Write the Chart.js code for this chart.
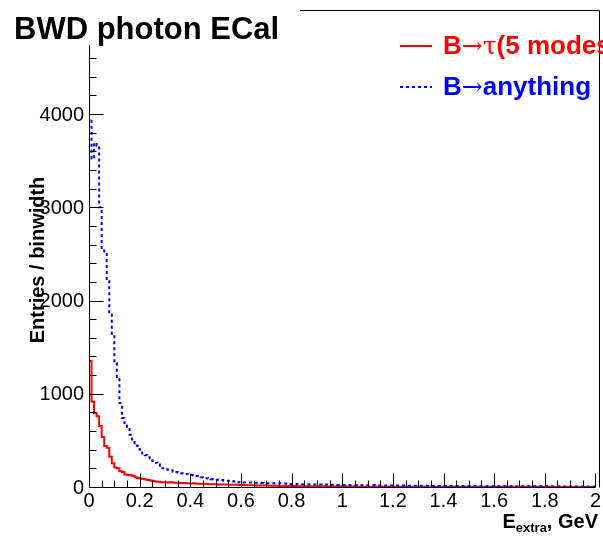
<!DOCTYPE html>
<html>
<head>
<meta charset="utf-8">
<script src="https://cdn.jsdelivr.net/npm/chart.js@4.4.0/dist/chart.umd.min.js"></script>
<style>
  html, body { margin: 0; padding: 0; background: #fff; }
  #wrap { width: 603px; height: 537px; position: relative; overflow: hidden; }
</style>
</head>
<body>
<div id="wrap"><canvas id="c" width="603" height="537"></canvas></div>
<script>
// ---- Data ----
const titleText = "BWD photon ECal";
const xAxisTitle = ["E", "extra", ", GeV"];
const yAxisTitle = "Entries / binwidth";
const binWidth = 0.01;
const xMin = 0, xMax = 2;
const yMin = 0, yMax = 4740;
const xMajorStep = 0.2, xMinorStep = 0.05;
const yMajorStep = 1000, yMinorStep = 200;
const yTickValues = [0, 1000, 2000, 3000, 4000];
const yTickLabels = ["0", "1000", "2000", "3000", "4000"];
const seriesNames = ["B\u2192\u03C4(5 modes)", "B\u2192anything"];

// B -> tau (5 modes), red solid, entries per 0.01 GeV bin from 0 to 2
const redValues = [
  0,1354,915,790,760,654,536,440,420,325,
  254,210,200,170,160,135,130,125,120,105,
  95,90,85,80,75,70,65,60,55,52,
  50,50,48,50,46,45,44,42,42,40,
  40,38,40,36,35,34,33,32,30,30,
  29,29,28,28,27,26,25,25,24,23,
  22,21,20,20,19,18,18,17,16,16,
  15,15,14,14,13,13,12,12,11,11,
  10,10,10,9,9,9,8,8,8,8,
  7,7,7,7,6,6,6,6,6,6,
  5,5,5,5,5,5,5,4,4,4,
  4,4,4,4,4,4,4,4,4,3,
  3,3,3,3,4,3,3,3,3,3,
  3,3,3,3,3,3,2,3,3,3,
  3,2,2,3,2,2,2,3,2,2,
  2,2,2,2,2,2,2,2,2,2,
  2,2,2,2,1,2,2,2,2,2,
  2,2,2,1,2,2,2,1,2,2,
  1,2,1,2,1,1,2,1,1,2,
  1,1,1,2,1,1,1,1,1,1
];
// B -> anything, blue dashed
const blueValues = [
  0,3950,3520,3690,3660,3000,2550,2500,2220,1850,
  1630,1330,1180,900,740,670,620,560,510,470,
  440,400,360,340,320,305,280,260,240,215,
  200,190,185,180,164,160,155,147,145,140,
  130,128,125,118,105,104,100,95,90,82,
  80,78,76,74,68,67,66,64,60,52,
  50,50,48,48,47,47,46,45,45,44,
  42,41,41,40,40,39,39,38,37,36,
  32,31,31,30,30,29,29,29,28,28,
  28,27,27,26,26,24,24,23,23,22,
  22,21,21,21,20,20,20,19,19,19,
  18,18,18,18,17,17,17,17,16,16,
  16,16,15,15,15,15,14,14,14,14,
  14,13,13,13,13,13,12,12,12,12,
  12,12,11,11,11,11,11,11,10,10,
  10,10,10,10,10,9,9,9,9,9,
  9,9,9,8,8,8,8,8,8,8,
  8,8,7,7,7,7,7,7,7,7,
  7,7,6,7,6,6,6,6,6,6,
  6,6,6,5,6,5,5,5,5,5
];

function toSteps(vals) {
  const pts = vals.map((v, i) => ({ x: +(i * binWidth).toFixed(4), y: v }));
  pts.push({ x: xMax, y: vals[vals.length - 1] });
  return pts;
}

const FONT = "'Liberation Sans', Arial, Helvetica, sans-serif";
Chart.defaults.font.family = FONT;
Chart.defaults.color = "#000";

const rootPlugin = {
  id: "rootStyle",
  afterDraw(chart) {
    const ctx = chart.ctx;
    const xs = chart.scales.x, ys = chart.scales.y;
    const ca = chart.chartArea;
    ctx.save();
    ctx.strokeStyle = "#000";
    ctx.lineWidth = 1;
    // axes lines
    const x0 = Math.round(xs.getPixelForValue(xMin)) + 0.5;
    const y0 = Math.round(ys.getPixelForValue(yMin)) + 0.5;
    ctx.beginPath();
    ctx.moveTo(x0, Math.round(ca.top));
    ctx.lineTo(x0, y0);
    ctx.lineTo(Math.round(ca.right) + 0.5, y0);
    ctx.stroke();
    // y ticks (inside)
    ctx.beginPath();
    for (let v = yMin; v <= yMax + 1e-6; v += yMinorStep) {
      const py = Math.round(ys.getPixelForValue(v)) + 0.5;
      const major = Math.abs(v / yMajorStep - Math.round(v / yMajorStep)) < 1e-6;
      ctx.moveTo(x0, py);
      ctx.lineTo(x0 + (major ? 14 : 7), py);
    }
    // x ticks (inside)
    for (let v = xMin; v <= xMax + 1e-6; v += xMinorStep) {
      const px = Math.round(xs.getPixelForValue(v)) + 0.5;
      const major = Math.abs(v / xMajorStep - Math.round(v / xMajorStep)) < 1e-6;
      ctx.moveTo(px, y0);
      ctx.lineTo(px, y0 - (major ? 14 : 7));
    }
    ctx.stroke();

    // y tick labels
    ctx.fillStyle = "#000";
    ctx.font = "20px " + FONT;
    ctx.textAlign = "right";
    ctx.textBaseline = "middle";
    yTickValues.forEach((v, i) => {
      ctx.fillText(yTickLabels[i], 84, ys.getPixelForValue(v) + 1);
    });

    // title
    ctx.font = "bold 31px " + FONT;
    ctx.textAlign = "left";
    ctx.textBaseline = "alphabetic";
    ctx.fillText(titleText, 14, 39);

    // legend box edges
    ctx.beginPath();
    ctx.moveTo(300, 10.5);
    ctx.lineTo(599.5, 10.5);
    ctx.lineTo(599.5, y0);
    ctx.stroke();

    // legend entries
    const ds = chart.data.datasets;
    const rows = [46, 87];
    ds.forEach((d) => {
      const y = rows[d.legendRow];
      ctx.save();
      ctx.strokeStyle = d.borderColor;
      ctx.lineWidth = d.borderWidth;
      ctx.setLineDash(d.borderDash || []);
      ctx.beginPath();
      ctx.moveTo(400, y);
      ctx.lineTo(432, y);
      ctx.stroke();
      ctx.restore();
      ctx.fillStyle = d.borderColor;
      ctx.textAlign = "left";
      ctx.textBaseline = "middle";
      const label = d.label;
      let x = 443;
      const parts = [];
      const bold = "bold 26px " + FONT, sym = "25px 'DejaVu Serif', serif";
      parts.push([label.slice(0, 1), bold]);
      if (label.charAt(2) === "\u03C4") {
        parts.push([label.slice(1, 3), sym]);
        parts.push([label.slice(3), bold]);
      } else {
        parts.push([label.slice(1, 2), sym]);
        parts.push([label.slice(2), bold]);
      }
      parts.forEach(([t, f]) => {
        ctx.font = f;
        ctx.fillText(t, x, y + 1);
        x += ctx.measureText(t).width;
      });
    });

    // x axis title
    ctx.fillStyle = "#000";
    ctx.textAlign = "left";
    ctx.textBaseline = "alphabetic";
    const bigF = "bold 20px " + FONT, subF = "bold 13px " + FONT;
    ctx.font = bigF; const w1 = ctx.measureText(xAxisTitle[0]).width, w3 = ctx.measureText(xAxisTitle[2]).width;
    ctx.font = subF; const w2 = ctx.measureText(xAxisTitle[1]).width;
    let tx = 598 - (w1 + w2 + w3);
    const by = 528;
    ctx.font = bigF; ctx.fillText(xAxisTitle[0], tx, by); tx += w1;
    ctx.font = subF; ctx.fillText(xAxisTitle[1], tx, by + 4); tx += w2;
    ctx.font = bigF; ctx.fillText(xAxisTitle[2], tx, by);

    // y axis title
    ctx.save();
    ctx.translate(44, 260);
    ctx.rotate(-Math.PI / 2);
    ctx.font = "bold 20px " + FONT;
    ctx.textAlign = "center";
    ctx.textBaseline = "alphabetic";
    ctx.fillText(yAxisTitle, 0, 0);
    ctx.restore();
    ctx.restore();
  }
};

new Chart(document.getElementById("c"), {
  type: "line",
  data: {
    datasets: [
      {
        label: seriesNames[0],
        data: toSteps(redValues),
        borderColor: "#ff0000",
        borderWidth: 2,
        stepped: "after",
        pointRadius: 0,
        fill: false,
        order: 1,
        legendRow: 0
      },
      {
        label: seriesNames[1],
        data: toSteps(blueValues),
        borderColor: "#0000ff",
        borderWidth: 2,
        borderDash: [3, 3],
        stepped: "after",
        pointRadius: 0,
        fill: false,
        order: 0,
        legendRow: 1
      }
    ]
  },
  options: {
    responsive: false,
    animation: false,
    events: [],
    layout: { padding: { left: 0, right: 3, top: 45, bottom: 0 } },
    plugins: { legend: { display: false }, tooltip: { enabled: false }, title: { display: false } },
    scales: {
      x: {
        type: "linear",
        min: xMin, max: xMax,
        grid: { display: false, drawTicks: false },
        border: { display: false },
        ticks: {
          stepSize: xMajorStep,
          padding: 2,
          maxRotation: 0,
          autoSkip: false,
          includeBounds: false,
          font: { size: 20 },
          color: "#000",
          callback: (v) => String(+(+v).toFixed(1))
        },
        afterFit: (s) => { s.height = 50; }
      },
      y: {
        type: "linear",
        min: yMin, max: yMax,
        grid: { display: false, drawTicks: false },
        border: { display: false },
        ticks: { display: false },
        afterFit: (s) => { s.width = 89; }
      }
    }
  },
  plugins: [rootPlugin]
});
</script>
</body>
</html>
